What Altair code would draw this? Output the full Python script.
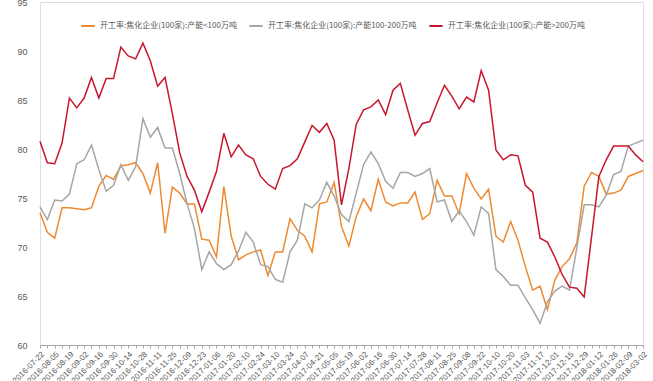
import json
import altair as alt
import pandas as pd

# Weekly observation dates (holiday weeks skipped)
dates = [
    "2016-07-22", "2016-07-29", "2016-08-05", "2016-08-12", "2016-08-19", "2016-08-26",
    "2016-09-02", "2016-09-09", "2016-09-16", "2016-09-23", "2016-09-30", "2016-10-07",
    "2016-10-14", "2016-10-21", "2016-10-28", "2016-11-04", "2016-11-11", "2016-11-18",
    "2016-11-25", "2016-12-02", "2016-12-09", "2016-12-16", "2016-12-23", "2016-12-30",
    "2017-01-06", "2017-01-13", "2017-01-20", "2017-02-03", "2017-02-10", "2017-02-17",
    "2017-02-24", "2017-03-03", "2017-03-10", "2017-03-17", "2017-03-24", "2017-03-31",
    "2017-04-07", "2017-04-14", "2017-04-21", "2017-04-28", "2017-05-05", "2017-05-12",
    "2017-05-19", "2017-05-26", "2017-06-02", "2017-06-09", "2017-06-16", "2017-06-23",
    "2017-06-30", "2017-07-07", "2017-07-14", "2017-07-21", "2017-07-28", "2017-08-04",
    "2017-08-11", "2017-08-18", "2017-08-25", "2017-09-01", "2017-09-08", "2017-09-15",
    "2017-09-22", "2017-09-29", "2017-10-10", "2017-10-13", "2017-10-20", "2017-10-27",
    "2017-11-03", "2017-11-10", "2017-11-17", "2017-11-24", "2017-12-01", "2017-12-08",
    "2017-12-15", "2017-12-22", "2017-12-29", "2018-01-05", "2018-01-12", "2018-01-19",
    "2018-01-26", "2018-02-02", "2018-02-09", "2018-02-23", "2018-03-02",
]

# Coking plant utilisation (%), by capacity class
small_cap = [
    73.5, 71.5, 70.9, 74.0, 74.0, 73.9, 73.8, 74.0, 76.2, 77.3,
    76.9, 78.3, 78.4, 78.6, 77.5, 75.5, 78.6, 71.4, 76.1, 75.5,
    74.4, 74.4, 70.8, 70.7, 69.0, 76.2, 71.1, 68.7, 69.2, 69.5,
    69.7, 67.1, 69.5, 69.5, 72.9, 71.7, 71.1, 69.5, 74.4, 74.6,
    76.6, 72.1, 70.1, 73.1, 74.9, 73.7, 76.9, 74.6, 74.2, 74.5,
    74.5, 75.6, 72.8, 73.4, 76.8, 75.2, 75.2, 73.4, 77.5, 76.0,
    74.9, 75.9, 71.1, 70.5, 72.6, 70.7, 68.0, 65.6, 66.0, 63.6,
    66.6, 68.0, 68.8, 70.4, 76.2, 77.6, 77.2, 75.4, 75.5, 75.8,
    77.2, 77.5, 77.8,
]
mid_cap = [
    74.1, 72.8, 74.8, 74.7, 75.4, 78.5, 78.9, 80.4, 77.9, 75.7,
    76.3, 78.4, 76.8, 78.2, 83.1, 81.2, 82.2, 80.1, 80.1, 77.5,
    74.4, 71.9, 67.7, 69.5, 68.3, 67.7, 68.2, 69.6, 71.5, 70.5,
    68.2, 68.0, 66.7, 66.4, 69.5, 70.7, 74.4, 74.0, 74.8, 76.6,
    75.2, 73.3, 72.6, 75.5, 78.4, 79.7, 78.5, 76.7, 76.0, 77.6,
    77.6, 77.2, 77.5, 78.0, 74.6, 74.8, 72.6, 73.7, 72.6, 71.2,
    74.1, 73.4, 67.7, 67.0, 66.1, 66.1, 64.8, 63.6, 62.2, 64.4,
    65.5, 66.0, 65.6, 69.9, 74.3, 74.3, 74.1, 75.3, 77.4, 77.7,
    80.3, 80.6, 80.9,
]
large_cap = [
    80.8, 78.6, 78.5, 80.6, 85.2, 84.2, 85.2, 87.3, 85.2, 87.2,
    87.2, 90.4, 89.5, 89.2, 90.8, 89.0, 86.4, 87.3, 83.6, 79.6,
    77.2, 75.8, 73.6, 75.6, 77.7, 81.6, 79.2, 80.4, 79.4, 79.0,
    77.2, 76.4, 75.9, 78.0, 78.3, 79.0, 80.7, 82.4, 81.7, 82.6,
    80.9, 74.3, 78.0, 82.5, 84.0, 84.3, 85.0, 83.5, 86.0, 86.7,
    84.0, 81.4, 82.6, 82.8, 84.7, 86.5, 85.4, 84.1, 85.3, 84.8,
    88.0, 86.0, 79.9, 78.9, 79.4, 79.3, 76.3, 75.6, 70.9, 70.5,
    69.0, 67.2, 65.9, 65.8, 64.9, 71.0, 77.2, 78.9, 80.3, 80.3,
    80.3, 79.4, 78.7,
]

series_names = [
    "开工率:焦化企业(100家):产能<100万吨",
    "开工率:焦化企业(100家):产能100-200万吨",
    "开工率:焦化企业(100家):产能>200万吨",
]
series_colors = ["#EE8A30", "#A6A6A6", "#C8162E"]
y_ticks = [60, 65, 70, 75, 80, 85, 90, 95]

rows = []
for name, values in zip(series_names, [small_cap, mid_cap, large_cap]):
    for i, (d, v) in enumerate(zip(dates, values)):
        rows.append({"idx": i, "date": d, "value": v, "series": name})
df = pd.DataFrame(rows)

# every other week gets a date label; all weeks get a tick
even_labels = json.dumps(dates[::2])
label_expr = f"datum.value % 2 == 0 ? {even_labels}[datum.value / 2] : ''"

n = len(dates)

chart = (
    alt.Chart(df)
    .mark_line(strokeWidth=1.5)
    .encode(
        x=alt.X(
            "idx:Q",
            scale=alt.Scale(domain=[0, n - 1], nice=False, zero=False),
            axis=alt.Axis(
                title=None,
                values=list(range(n)),
                labelExpr=label_expr,
                labelAngle=-45,
                labelFontSize=8,
                labelColor="#595959",
                labelFont="Liberation Sans",
                labelPadding=2,
                labelOverlap=False,
                labelFlush=False,
                tickSize=3,
                tickColor="#A6A6A6",
                domainColor="#A6A6A6",
                grid=False,
            ),
        ),
        y=alt.Y(
            "value:Q",
            scale=alt.Scale(domain=[60, 95], nice=False, zero=False),
            axis=alt.Axis(
                title=None,
                values=y_ticks,
                labelFontSize=9,
                labelColor="#595959",
                labelFont="Liberation Sans",
                labelPadding=13,
                ticks=False,
                domain=False,
                grid=False,
            ),
        ),
        color=alt.Color(
            "series:N",
            scale=alt.Scale(domain=series_names, range=series_colors),
            sort=series_names,
            title=None,
            legend=alt.Legend(
                orient="none",
                legendX=40,
                legendY=16,
                direction="horizontal",
                symbolType="stroke",
                symbolStrokeWidth=2,
                symbolSize=180,
                labelFont="Noto Sans CJK SC",
                labelFontSize=8,
                labelColor="#595959",
                labelLimit=400,
                columnPadding=8,
            ),
        ),
        order=alt.Order("idx:Q"),
    )
    .properties(
        width=603,
        height=343,
        autosize=alt.AutoSizeParams(type="none"),
        padding={"left": 40, "top": 2, "right": 10, "bottom": 36},
    )
    .configure_view(strokeWidth=0)
    .configure(background="white")
)

chart.save("out.html", embed_options={"renderer": "svg", "actions": False})
